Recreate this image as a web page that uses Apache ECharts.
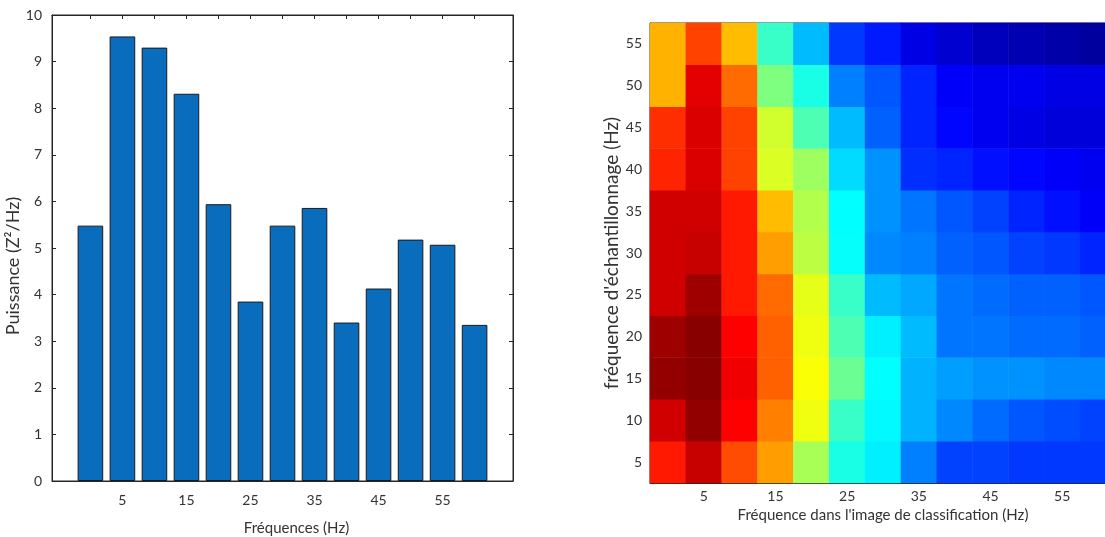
<!DOCTYPE html>
<html>
<head>
<meta charset="utf-8">
<script src="https://cdn.jsdelivr.net/npm/echarts@6/dist/echarts.min.js"></script>
<style>
html,body{margin:0;padding:0;background:#fff;}
#chart{width:1105px;height:537px;}
</style>
</head>
<body>
<div id="chart"></div>
<script>
// ---- Left chart: power spectrum bars ----
const barFreqs = [0, 5, 10, 15, 20, 25, 30, 35, 40, 45, 50, 55, 60];
const barPower = [5.48, 9.54, 9.30, 8.31, 5.94, 3.85, 5.48, 5.86, 3.40, 4.13, 5.18, 5.07, 3.35];
const barTickValues = [0, 5, 10, 15, 20, 25, 30, 35, 40, 45, 50, 55, 60];
const barTickLabels = [5, 15, 25, 35, 45, 55];

// ---- Right chart: heatmap (jet colormap values 0..1) ----
const heatX = ['0', '5', '10', '15', '20', '25', '30', '35', '40', '45', '50', '55', '60'];
const heatY = ['5', '10', '15', '20', '25', '30', '35', '40', '45', '50', '55'];
const heatValues = [
  /* 5  */ [0.85, 0.93, 0.80, 0.72, 0.54, 0.40, 0.36, 0.25, 0.19, 0.19, 0.18, 0.18, 0.18],
  /* 10 */ [0.92, 0.98, 0.875, 0.75, 0.61, 0.43, 0.37, 0.30, 0.26, 0.23, 0.21, 0.20, 0.19],
  /* 15 */ [0.98, 0.99, 0.89, 0.78, 0.62, 0.48, 0.375, 0.30, 0.28, 0.27, 0.27, 0.26, 0.26],
  /* 20 */ [0.97, 0.99, 0.875, 0.78, 0.61, 0.45, 0.36, 0.31, 0.24, 0.24, 0.23, 0.23, 0.22],
  /* 25 */ [0.92, 0.97, 0.85, 0.77, 0.60, 0.43, 0.31, 0.29, 0.24, 0.23, 0.22, 0.22, 0.21],
  /* 30 */ [0.92, 0.93, 0.85, 0.72, 0.56, 0.38, 0.26, 0.25, 0.22, 0.21, 0.19, 0.18, 0.16],
  /* 35 */ [0.92, 0.92, 0.85, 0.69, 0.55, 0.375, 0.27, 0.24, 0.21, 0.19, 0.16, 0.14, 0.12],
  /* 40 */ [0.84, 0.91, 0.81, 0.59, 0.53, 0.34, 0.27, 0.17, 0.16, 0.14, 0.13, 0.12, 0.11],
  /* 45 */ [0.83, 0.91, 0.81, 0.58, 0.45, 0.31, 0.22, 0.16, 0.13, 0.11, 0.10, 0.09, 0.09],
  /* 50 */ [0.70, 0.90, 0.77, 0.50, 0.40, 0.25, 0.21, 0.16, 0.12, 0.11, 0.11, 0.10, 0.10],
  /* 55 */ [0.70, 0.81, 0.69, 0.43, 0.31, 0.18, 0.15, 0.10, 0.08, 0.06, 0.05, 0.04, 0.03]
];
const heatXLabels = ['5', '15', '25', '35', '45', '55'];

const jet = ['#00007f', '#0000ff', '#007fff', '#00ffff', '#7fff7f', '#ffff00', '#ff7f00', '#ff0000', '#7f0000'];

const FONT = 'Lato, "Liberation Sans", Arial, sans-serif';
const AX = '#262626';
const TXT = '#333333';

const barData = barFreqs.map((f, i) => [f, barPower[i]]);
const heatData = [];
heatValues.forEach((row, yi) => row.forEach((v, xi) => heatData.push([xi, yi, v])));

const chart = echarts.init(document.getElementById('chart'));
chart.setOption({
  backgroundColor: '#ffffff',
  animation: false,
  textStyle: { fontFamily: FONT },
  grid: [
    { left: 52, right: 592, top: 15, bottom: 56, outerBoundsMode: 'none', containLabel: false, show: true, borderColor: AX, borderWidth: 1, backgroundColor: 'transparent' },
    { left: 650, right: -11, top: 23, bottom: 54, outerBoundsMode: 'none', containLabel: false, show: true, borderColor: AX, borderWidth: 1, backgroundColor: 'transparent' }
  ],
  xAxis: [
    {
      gridIndex: 0, type: 'value', min: -6, max: 66,
      name: 'Fréquences (Hz)', nameLocation: 'middle', nameGap: 40,
      nameTextStyle: { fontSize: 15, color: TXT, fontFamily: FONT, padding: [0, 0, 0, 28] },
      axisLine: { onZero: false, lineStyle: { color: AX } },
      axisTick: { inside: true, length: 4, lineStyle: { color: AX }, customValues: barTickValues },
      axisLabel: { fontSize: 14, color: TXT, fontFamily: FONT, margin: 12, customValues: barTickLabels },
      splitLine: { show: false }
    },
    {
      gridIndex: 0, type: 'value', min: -6, max: 66, position: 'top',
      axisLine: { onZero: false, lineStyle: { color: AX } },
      axisTick: { inside: true, length: 4, lineStyle: { color: AX }, customValues: barTickValues },
      axisLabel: { show: false },
      splitLine: { show: false }
    },
    {
      gridIndex: 1, type: 'category', data: heatX,
      name: "Fréquence dans l'image de classification (Hz)", nameLocation: 'middle', nameGap: 24,
      nameTextStyle: { fontSize: 15, color: TXT, fontFamily: FONT },
      axisLine: { lineStyle: { color: AX } },
      axisTick: { inside: true, length: 4, alignWithLabel: true, interval: (i) => heatXLabels.indexOf(heatX[i]) >= 0, lineStyle: { color: AX } },
      axisLabel: { fontSize: 14, color: TXT, fontFamily: FONT, margin: 6, interval: (i) => heatXLabels.indexOf(heatX[i]) >= 0 },
      splitLine: { show: false }
    }
  ],
  yAxis: [
    {
      gridIndex: 0, type: 'value', min: 0, max: 10, interval: 1,
      name: 'Puissance (Z²/Hz)', nameLocation: 'middle', nameGap: 22,
      nameTextStyle: { fontSize: 18, color: TXT, fontFamily: FONT, padding: [0, 36, 0, 0] },
      axisLine: { show: true, onZero: false, lineStyle: { color: AX } },
      axisTick: { show: true, inside: true, length: 4, lineStyle: { color: AX } },
      axisLabel: { fontSize: 14, color: TXT, fontFamily: FONT, margin: 10 },
      splitLine: { show: false }
    },
    {
      gridIndex: 0, type: 'value', min: 0, max: 10, interval: 1, position: 'right',
      axisLine: { show: true, onZero: false, lineStyle: { color: AX } },
      axisTick: { show: true, inside: true, length: 4, lineStyle: { color: AX } },
      axisLabel: { show: false },
      splitLine: { show: false }
    },
    {
      gridIndex: 1, type: 'category', data: heatY,
      name: "fréquence d'échantillonnage (Hz)", nameLocation: 'middle', nameGap: 29,
      nameTextStyle: { fontSize: 19, color: TXT, fontFamily: FONT },
      axisLine: { lineStyle: { color: AX } },
      axisTick: { inside: true, length: 4, alignWithLabel: true, lineStyle: { color: AX } },
      axisLabel: { fontSize: 14, color: TXT, fontFamily: FONT, margin: 8 },
      splitLine: { show: false }
    }
  ],
  visualMap: {
    show: false, type: 'continuous', min: 0, max: 1, seriesIndex: 1,
    inRange: { color: jet }
  },
  series: [
    {
      type: 'bar', xAxisIndex: 0, yAxisIndex: 0, data: barData, barWidth: 25.6,
      itemStyle: { color: '#0a6cbc', borderColor: '#1a1a1a', borderWidth: 1 }
    },
    {
      type: 'heatmap', xAxisIndex: 2, yAxisIndex: 2, data: heatData,
      itemStyle: { borderWidth: 0 }, emphasis: { disabled: true }
    }
  ]
});
</script>
</body>
</html>
